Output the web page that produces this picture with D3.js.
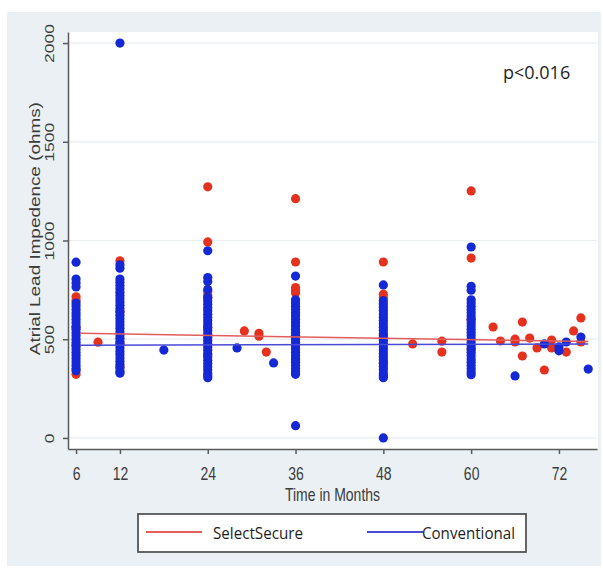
<!DOCTYPE html>
<html>
<head>
<meta charset="utf-8">
<script src="https://cdn.jsdelivr.net/npm/d3@7"></script>
<style>
  body { margin: 0; background: #fff; }
  .axis path, .axis line { stroke: #5a5a5a; stroke-width: 1.5; }
  .axis text { font-family: "Liberation Sans", Arial, sans-serif; fill: #3c3c3c; }
  .axis-title { font-family: "Liberation Sans", Arial, sans-serif; fill: #3c3c3c; }
  .legend-text { font-family: "Open Sans", sans-serif; fill: #1e1e1e; }
</style>
</head>
<body>
<svg id="chart"></svg>
<script>
// tick labels
const timeTicks = [6, 12, 24, 36, 48, 60, 72];
const impedanceTicks = [0, 500, 1000, 1500, 2000];
const seriesNames = ['SelectSecure', 'Conventional'];

// [month, ohms]
const selectSecurePoints = [
  [6, 715], [6, 698], [6, 560], [6, 470], [6, 322],
  [9, 485],
  [12, 897], [12, 640], [12, 480], [12, 360],
  [24, 1272], [24, 993], [24, 742], [24, 724], [24, 706], [24, 560], [24, 420],
  [29, 542], [31, 530], [31, 515], [32, 435],
  [36, 1212], [36, 891], [36, 762], [36, 748], [36, 734], [36, 520], [36, 400],
  [48, 891], [48, 728], [48, 710], [48, 520], [48, 380],
  [52, 476], [56, 490], [56, 435],
  [60, 1251], [60, 911], [60, 600], [60, 450],
  [63, 562], [64, 491], [66, 500], [66, 486], [67, 587], [67, 415], [68, 506],
  [69, 456], [70, 344], [71, 496], [71, 456], [73, 435], [74, 542], [75, 608], [75, 486]
];

const conventionalPoints = [
  [6, 890], [6, 805], [6, 785], [6, 765], [6, 683], [6, 668], [6, 650], [6, 633], [6, 617],
  [6, 600], [6, 584], [6, 566], [6, 550], [6, 533], [6, 517], [6, 500], [6, 484], [6, 467],
  [6, 451], [6, 434], [6, 418], [6, 401], [6, 385], [6, 368], [6, 352], [6, 340],
  [12, 2000], [12, 877], [12, 860], [12, 805], [12, 788], [12, 772], [12, 755], [12, 738],
  [12, 722], [12, 705], [12, 688], [12, 672], [12, 655], [12, 638], [12, 622], [12, 605],
  [12, 588], [12, 572], [12, 555], [12, 538], [12, 522], [12, 505], [12, 488], [12, 472],
  [12, 455], [12, 438], [12, 422], [12, 405], [12, 388], [12, 372], [12, 355], [12, 338], [12, 328],
  [18, 445],
  [24, 948], [24, 812], [24, 792], [24, 752], [24, 712], [24, 694], [24, 677], [24, 660],
  [24, 644], [24, 627], [24, 610], [24, 594], [24, 577], [24, 560], [24, 544], [24, 527],
  [24, 510], [24, 494], [24, 477], [24, 460], [24, 444], [24, 427], [24, 410], [24, 394],
  [24, 377], [24, 360], [24, 344], [24, 327], [24, 315], [24, 305],
  [28, 456], [33, 380],
  [36, 820], [36, 700], [36, 684], [36, 667], [36, 650], [36, 634], [36, 617], [36, 600],
  [36, 584], [36, 567], [36, 550], [36, 534], [36, 517], [36, 500], [36, 484], [36, 467],
  [36, 450], [36, 434], [36, 417], [36, 400], [36, 384], [36, 367], [36, 350], [36, 334],
  [36, 322], [36, 62],
  [48, 775], [48, 695], [48, 678], [48, 661], [48, 645], [48, 628], [48, 611], [48, 595],
  [48, 578], [48, 561], [48, 545], [48, 528], [48, 511], [48, 495], [48, 478], [48, 461],
  [48, 445], [48, 428], [48, 411], [48, 395], [48, 378], [48, 361], [48, 345], [48, 328],
  [48, 315], [48, 305], [48, 0],
  [60, 967], [60, 768], [60, 748], [60, 700], [60, 684], [60, 667], [60, 650], [60, 634],
  [60, 617], [60, 600], [60, 584], [60, 567], [60, 550], [60, 534], [60, 517], [60, 500],
  [60, 484], [60, 467], [60, 450], [60, 434], [60, 417], [60, 400], [60, 384], [60, 367],
  [60, 350], [60, 334], [60, 320],
  [66, 314], [70, 476], [72, 461], [72, 441], [73, 486], [75, 511], [76, 349]
];

// fitted lines, ends of the time range
const fitTimes = [6.6, 76];
const selectSecureFit = [530, 488];
const conventionalFit = [470, 476];

const pValueLabel = 'p<0.016';

class ImpedanceScatter {

  constructor(_config) {
    this.config = {
      parentElement: _config.parentElement,
      containerWidth: _config.containerWidth || 603,
      containerHeight: _config.containerHeight || 572,
      margin: _config.margin || {top: 32, right: 6, bottom: 123, left: 68},
      dotRadius: _config.dotRadius || 4.6,
      colors: _config.colors || {dot: ['#e5321e', '#1428d6'], fit: ['#e25c5c', '#4a4ad8']}
    };
    this.initVis();
  }

  initVis() {
    let vis = this;

    vis.width = vis.config.containerWidth - vis.config.margin.left - vis.config.margin.right;
    vis.height = vis.config.containerHeight - vis.config.margin.top - vis.config.margin.bottom;

    vis.xScale = d3.scaleLinear()
        .domain([4.9, 77.2])
        .range([0, vis.width]);

    vis.yScale = d3.scaleLinear()
        .domain([-56, 2056])
        .range([vis.height, 0]);

    vis.xAxis = d3.axisBottom(vis.xScale)
        .tickValues(timeTicks)
        .tickSize(5)
        .tickSizeOuter(0);

    vis.yAxis = d3.axisLeft(vis.yScale)
        .tickValues(impedanceTicks)
        .tickFormat(d3.format('d'))
        .tickSize(5)
        .tickSizeOuter(0);

    vis.svg = d3.select(vis.config.parentElement)
        .attr('width', vis.config.containerWidth)
        .attr('height', vis.config.containerHeight);

    // graph region (Stata light bluish gray)
    vis.svg.append('rect')
        .attr('x', 7)
        .attr('y', 12)
        .attr('width', 594)
        .attr('height', 554)
        .attr('fill', '#eaf0f3');

    vis.chart = vis.svg.append('g')
        .attr('transform', `translate(${vis.config.margin.left},${vis.config.margin.top})`);

    // plot region
    vis.chart.append('rect')
        .attr('width', vis.width + 1)
        .attr('height', vis.height)
        .attr('fill', '#fff');

    vis.renderVis();
  }

  renderVis() {
    let vis = this;

    vis.chart.append('g')
        .selectAll('line')
        .data(impedanceTicks)
        .join('line')
          .attr('x1', 0)
          .attr('x2', vis.width)
          .attr('y1', d => vis.yScale(d))
          .attr('y2', d => vis.yScale(d))
          .attr('stroke', '#e8eef1')
          .attr('stroke-width', 1.2);

    // red drawn first, blue on top
    const groups = [selectSecurePoints, conventionalPoints];
    groups.forEach((pts, i) => {
      vis.chart.append('g')
          .selectAll('circle')
          .data(pts)
          .join('circle')
            .attr('cx', d => vis.xScale(d[0]))
            .attr('cy', d => vis.yScale(d[1]))
            .attr('r', vis.config.dotRadius)
            .attr('fill', vis.config.colors.dot[i]);
    });

    const line = d3.line()
        .x(d => vis.xScale(d[0]))
        .y(d => vis.yScale(d[1]));

    [selectSecureFit, conventionalFit].forEach((fit, i) => {
      vis.chart.append('path')
          .datum(fitTimes.map((t, j) => [t, fit[j]]))
          .attr('d', line)
          .attr('fill', 'none')
          .attr('stroke', vis.config.colors.fit[i])
          .attr('stroke-width', 1.5);
    });

    vis.xAxisG = vis.chart.append('g')
        .attr('class', 'axis x-axis')
        .attr('transform', `translate(0,${vis.height})`)
        .call(vis.xAxis);

    vis.xAxisG.selectAll('text')
        .attr('y', 0)
        .attr('dy', 0)
        .style('font-size', '14px')
        .attr('transform', 'translate(0,31) scale(1,1.35)');

    vis.yAxisG = vis.chart.append('g')
        .attr('class', 'axis y-axis')
        .call(vis.yAxis);

    vis.yAxisG.selectAll('text')
        .attr('x', 0)
        .attr('dy', 0)
        .style('font-size', '13px')
        .style('text-anchor', 'middle')
        .attr('transform', 'translate(-14,0) rotate(-90) scale(1.35,1)');

    // axis titles
    vis.chart.append('text')
        .attr('class', 'axis-title')
        .style('font-size', '14px')
        .style('text-anchor', 'middle')
        .attr('transform', `translate(${vis.width / 2},${vis.height + 52}) scale(1,1.3)`)
        .text('Time in Months');

    vis.chart.append('text')
        .attr('class', 'axis-title')
        .style('font-size', '14px')
        .style('text-anchor', 'middle')
        .attr('transform', `translate(-28,${vis.yScale(1060)}) rotate(-90) scale(1.35,1)`)
        .text('Atrial Lead Impedence (ohms)');

    vis.chart.append('text')
        .attr('class', 'legend-text')
        .attr('x', 435)
        .attr('y', 47)
        .style('font-size', '18px')
        .text(pValueLabel);

    vis.renderLegend();
  }

  renderLegend() {
    let vis = this;
    const legendG = vis.svg.append('g')
        .attr('transform', 'translate(138,514)');

    legendG.append('rect')
        .attr('width', 388)
        .attr('height', 38)
        .attr('fill', '#fff')
        .attr('stroke', '#555')
        .attr('stroke-width', 1.8);

    const items = legendG.selectAll('.legend-item')
        .data(seriesNames)
        .join('g')
          .attr('class', 'legend-item')
          .attr('transform', (d, i) => `translate(${i === 0 ? 8 : 229},18)`);

    items.append('line')
        .attr('x1', 0)
        .attr('x2', 56)
        .attr('stroke', (d, i) => vis.config.colors.fit[i])
        .attr('stroke-width', 2);

    items.append('text')
        .attr('class', 'legend-text')
        .attr('x', (d, i) => i === 0 ? 67 : 55)
        .attr('y', 7)
        .attr('textLength', (d, i) => i === 0 ? 90 : 93)
        .attr('lengthAdjust', 'spacingAndGlyphs')
        .style('font-size', '17px')
        .text(d => d);
  }
}

new ImpedanceScatter({parentElement: '#chart'});
</script>
</body>
</html>
